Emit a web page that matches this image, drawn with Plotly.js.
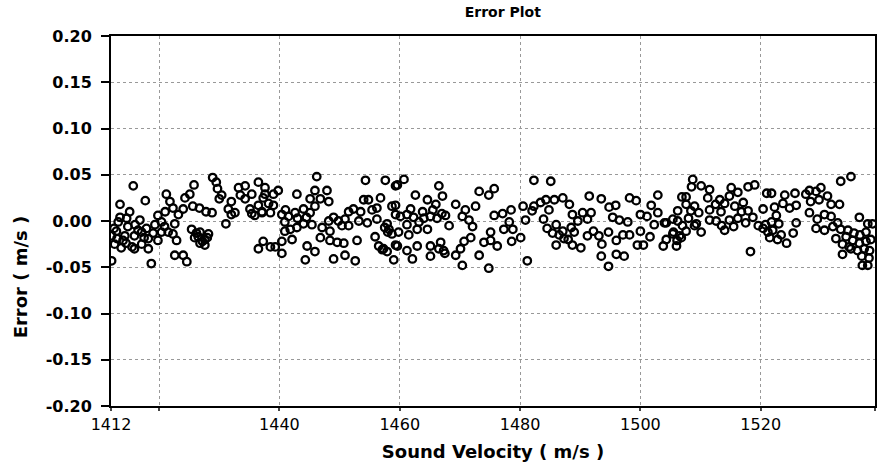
<!DOCTYPE html>
<html>
<head>
<meta charset="utf-8">
<script src="https://cdn.plot.ly/plotly-3.0.1.min.js"></script>
<style>html,body{margin:0;padding:0;background:#fff;}#chart{width:893px;height:474px;}</style>
</head>
<body>
<div id="chart"></div>
<script>
// Sound velocity (m/s) of each measured point
const soundVelocity = [
1415.7,1417.7,1413.5,1415.1,1413.5,1412.1,1412.6,1414.0,1413.7,1412.1,1414.8,1416.5,1416.8,1415.9,1417.1,1418.2,1418.2,1418.7,1417.9,1419.8,
1419.3,1420.4,1421.0,1421.2,1421.8,1422.3,1420.4,1421.5,1422.6,1422.9,1424.3,1425.1,1425.8,1424.0,1423.2,1425.6,1426.7,1427.8,1428.8,1428.9,
1429.5,1429.7,1430.0,1431.1,1425.4,1425.9,1426.8,1427.6,1428.2,1422.6,1424.0,1424.6,1432.0,1433.2,1434.3,1436.5,1432.0,1435.4,1436.5,1437.3,
1435.4,1412.9,1414.3,1413.2,1417.1,1415.9,1414.6,1419.8,1420.9,1422.3,1426.2,1427.6,1430.4,1431.5,1433.5,1434.3,1435.1,1436.5,1435.9,1437.1,
1437.6,1432.6,
1437.6,1437.3,1439.0,1439.8,1438.2,1439.0,1437.1,1438.5,1440.4,1441.5,1442.6,1442.9,1444.0,1445.1,1445.1,1445.9,1447.9,1446.8,1448.2,1446.2,
1445.9,1445.4,1440.9,1440.9,1441.8,1442.9,1444.0,1442.1,1440.4,1439.3,1438.5,1440.4,1444.6,1445.9,1444.3,1446.8,1447.1,1448.4,1448.2,1449.0,
1449.8,1450.4,1451.5,1450.9,1451.5,1452.3,1448.4,1449.6,1450.7,1449.0,1450.9,1452.6,1452.9,1453.5,1454.0,1454.8,1455.4,1454.3,1457.6,1459.3,
1456.2,1456.8,1453.2,1454.6,1456.2,1457.9,1458.2,1458.7,1455.9,1458.7,1459.3,1457.1,1457.9,1459.0,1459.3,
1460.7,1459.6,1459.3,1460.1,1461.2,1461.8,1462.6,1464.6,1466.0,1466.5,1467.1,1469.3,1473.2,1474.8,1475.7,1482.3,1472.6,1470.9,1462.3,1463.2,
1464.0,1465.1,1466.2,1467.6,1468.2,1470.4,1471.5,1472.1,1461.2,1461.5,1462.9,1464.6,1459.8,1459.6,1461.2,1462.1,1462.9,1465.1,1465.1,1466.8,
1467.3,1469.3,1470.1,1470.7,1471.8,1470.4,1473.2,1474.0,1475.1,1475.1,1476.2,1474.8,1475.7,1477.1,1478.5,1478.2,1477.3,1478.8,1478.6,1480.1,
1480.9,1481.2,1480.5,1482.3,1483.4,1482.0,
1485.1,1484.3,1485.7,1487.1,1488.2,1484.8,1483.9,1486.0,1485.4,1487.1,1488.5,1488.7,1490.4,1491.8,1489.6,1491.2,1491.5,1493.5,1494.8,1495.9,
1495.4,1496.5,1497.9,1498.2,1499.3,1501.8,1502.9,1500.0,1501.1,1502.9,1502.3,1504.3,1505.4,1506.2,1507.6,1508.7,1508.5,1510.1,1509.0,1509.3,
1510.1,1507.6,1506.5,1505.4,1506.0,1503.8,1504.3,1501.6,1500.5,1499.5,1498.2,1500.0,1497.1,1496.0,1494.7,1493.6,1493.1,1492.2,1491.2,1490.1,
1488.7,1487.3,1486.0,1493.5,1496.0,1497.3,1494.7,
1504.0,1505.5,1506.1,1506.9,1507.6,1508.4,1509.0,1509.7,1506.2,
1511.5,1515.1,1516.2,1517.9,1519.0,1514.8,1511.2,1513.2,1511.5,1513.4,1515.7,1517.1,1517.9,1516.2,1514.8,1512.6,1511.5,1514.0,1518.7,1519.6,
1520.4,1521.0,1521.8,1520.4,1521.2,1521.8,1522.6,1522.3,1524.0,1525.7,1523.7,1524.8,1525.9,1523.4,1524.3,1525.4,1525.9,1518.3,1527.5,1528.1,
1529.2,1530.0,1528.3,1529.7,1531.1,1531.7,1533.1,1533.3,1535.0,1528.1,1529.4,1530.6,1531.7,1529.2,1530.6,1532.0,1532.8,1533.3,1532.5,1534.2,
1535.3,1536.4,1537.8,1538.6,1533.6,1534.7,1536.4,1537.5,1536.1,1538.1,1537.2,1533.6,1536.9,1537.8,
1413.0,1414.5,1416.0,1417.5,1419.0,1412.5,1415.5,1426.5,1427.2,1428.0,1426.8,1441.0,1443.0,1444.5,1457.5,1458.0,1456.5,1457.3,1463.8,1465.5,
1467.0,1466.5,1467.5,1484.5,1486.5,1488.0,1489.0,1507.0,1508.0,1506.8,1512.5,1514.0,1516.8,1513.5,1515.5,1517.5,1520.8,1522.0,1523.0,1521.5,
1522.8,1534.5,1535.5,1536.5,1537.5,1535.0,1538.3,1536.8,1538.0
];
// Error (m/s) of each measured point
const errorValues = [
0.038,0.022,0.018,0.010,0.004,-0.016,-0.025,-0.021,-0.029,-0.043,-0.006,-0.010,0.001,-0.016,-0.025,-0.019,-0.030,-0.046,-0.008,0.006,
-0.004,-0.001,0.010,0.029,0.021,0.014,-0.012,-0.012,-0.003,-0.021,0.025,0.029,0.039,0.013,0.007,0.016,0.014,0.010,0.009,0.047,
0.042,0.035,0.024,-0.003,-0.009,-0.018,-0.024,-0.020,-0.014,-0.037,-0.037,-0.044,0.021,0.036,0.038,0.042,0.007,0.029,-0.030,-0.022,
0.008,-0.011,-0.016,-0.001,-0.012,-0.030,0.003,-0.021,-0.006,-0.014,-0.013,-0.026,0.028,0.013,0.028,0.024,0.013,0.017,0.006,0.010,
0.029,0.009,
0.036,0.025,0.029,0.033,0.019,0.017,0.009,0.009,0.007,0.005,0.009,0.029,0.013,0.009,0.024,0.033,0.033,0.024,0.021,0.048,
0.016,-0.004,-0.001,-0.011,-0.009,-0.007,-0.003,-0.020,-0.022,-0.028,-0.028,-0.035,-0.027,-0.033,-0.042,-0.018,-0.007,-0.011,0.000,0.004,
0.000,-0.005,-0.005,0.002,0.010,0.013,-0.021,-0.023,-0.024,-0.041,-0.037,-0.043,-0.021,0.010,0.023,0.023,0.012,0.044,0.044,0.038,
0.014,0.025,0.000,-0.002,0.002,-0.003,-0.009,-0.014,-0.017,0.016,0.007,-0.031,-0.033,-0.042,-0.026,
0.045,0.039,0.017,0.005,0.007,0.013,0.028,0.023,0.018,0.038,0.027,0.018,0.032,0.028,0.035,0.044,0.016,0.012,0.004,-0.001,
0.003,0.005,0.003,0.006,-0.005,0.005,0.001,-0.006,-0.004,-0.015,-0.009,-0.009,-0.012,-0.027,-0.032,-0.041,-0.027,-0.027,-0.038,-0.023,
-0.032,-0.037,-0.030,-0.022,-0.018,-0.048,-0.037,-0.023,-0.012,-0.021,-0.027,-0.051,0.006,0.008,0.012,-0.001,-0.009,-0.009,-0.022,-0.018,
0.001,-0.043,0.016,0.016,0.020,0.011,
0.043,0.023,0.023,0.025,0.018,0.012,0.002,-0.004,-0.013,-0.011,-0.007,0.007,0.009,0.009,0.000,0.002,0.027,0.024,0.015,0.017,
0.004,0.001,-0.001,0.025,0.022,0.017,0.028,0.007,0.005,0.009,-0.004,-0.002,0.002,0.011,0.026,0.045,0.037,0.038,0.016,-0.003,
-0.012,-0.011,-0.016,-0.014,-0.027,-0.027,-0.020,-0.017,-0.026,-0.026,-0.015,-0.011,-0.015,-0.021,-0.012,-0.025,-0.016,-0.011,-0.016,-0.029,
-0.026,-0.019,-0.026,-0.038,-0.036,-0.038,-0.049,
-0.002,-0.012,-0.021,0.026,0.018,0.011,-0.005,0.009,0.000,
0.034,0.036,0.031,0.037,0.039,0.027,0.025,0.023,0.012,0.010,0.016,0.020,0.011,0.003,0.001,0.000,0.001,-0.010,0.004,-0.005,
0.013,0.030,0.030,-0.008,-0.012,-0.001,0.006,0.015,0.028,0.030,0.019,0.014,0.017,-0.015,-0.024,-0.013,-0.002,-0.033,0.029,0.033,
0.032,0.036,0.021,0.023,0.027,0.018,0.018,0.043,0.048,0.009,0.002,0.007,0.005,-0.008,-0.010,-0.006,-0.002,-0.009,-0.019,-0.017,
-0.021,0.004,-0.003,-0.003,-0.025,-0.028,-0.024,-0.022,-0.032,-0.032,-0.030,-0.036,-0.048,-0.048,
-0.019,-0.024,-0.004,-0.018,-0.013,-0.008,-0.028,-0.017,-0.022,-0.018,-0.012,0.012,0.003,0.004,-0.007,-0.012,-0.027,-0.030,0.010,0.012,
0.008,-0.030,-0.035,-0.008,-0.015,-0.020,-0.012,-0.005,0.003,-0.018,0.018,0.019,0.010,-0.005,-0.006,-0.002,-0.004,-0.010,-0.003,-0.018,
-0.020,-0.010,-0.013,-0.015,-0.012,-0.030,-0.020,-0.038,-0.040
];
// Axis ticks
const xTickVals = [1412, 1420, 1440, 1460, 1480, 1500, 1520, 1539];
const xTickText = ['1412', '', '1440', '1460', '1480', '1500', '1520', '1539'];
const yTickVals = [0.20, 0.15, 0.10, 0.05, 0.00, -0.05, -0.10, -0.15, -0.20];
const yTickText = ['0.20', '0.15', '0.10', '0.05', '0.00', '-0.05', '-0.10', '-0.15', '-0.20'];

const FONT = 'DejaVu Sans, Verdana, sans-serif';

const trace = {
  type: 'scatter',
  mode: 'markers',
  x: soundVelocity,
  y: errorValues,
  marker: { symbol: 'circle-open', size: 7.5, color: '#000', line: { width: 2.3, color: '#000' } },
  hoverinfo: 'x+y'
};

const layout = {
  width: 893,
  height: 474,
  margin: { l: 111, r: 18, t: 36, b: 68 },
  paper_bgcolor: '#fff',
  plot_bgcolor: '#fff',
  showlegend: false,
  font: { family: FONT, color: '#000' },
  title: {
    text: 'Error Plot',
    font: { family: FONT, size: 14, weight: 'bold', color: '#000' },
    x: 0.563, xanchor: 'center',
    y: 0.974, yanchor: 'middle'
  },
  xaxis: {
    range: [1412, 1539],
    tickvals: xTickVals,
    ticktext: xTickText,
    tickfont: { family: FONT, size: 16, color: '#000' },
    ticks: 'outside', ticklen: 3, tickwidth: 2, tickcolor: '#444',
    ticklabelstandoff: 0,
    showline: true, linecolor: '#000', linewidth: 2, mirror: true,
    showgrid: true, gridcolor: '#999999', griddash: 'dot', gridwidth: 1,
    zeroline: false,
    title: {
      text: 'Sound Velocity ( m/s )',
      font: { family: FONT, size: 18, weight: 'bold', color: '#000' },
      standoff: 12
    },
    automargin: false
  },
  yaxis: {
    range: [-0.2, 0.2],
    tickvals: yTickVals,
    ticktext: yTickText,
    tickfont: { family: FONT, size: 16, weight: 'bold', color: '#000' },
    ticks: 'outside', ticklen: 8, tickwidth: 2, tickcolor: '#000',
    ticklabelstandoff: 6,
    showline: true, linecolor: '#000', linewidth: 2, mirror: true,
    showgrid: true, gridcolor: '#999999', griddash: 'dot', gridwidth: 1,
    zeroline: false,
    automargin: false
  },
  annotations: [{
    text: 'Error ( m/s )',
    textangle: -90,
    xref: 'paper', yref: 'paper',
    x: -0.118, y: 0.35,
    xanchor: 'center', yanchor: 'middle',
    showarrow: false,
    font: { family: FONT, size: 18, weight: 'bold', color: '#000' }
  }]
};

Plotly.newPlot('chart', [trace], layout, { displayModeBar: false, staticPlot: true });
</script>
</body>
</html>
